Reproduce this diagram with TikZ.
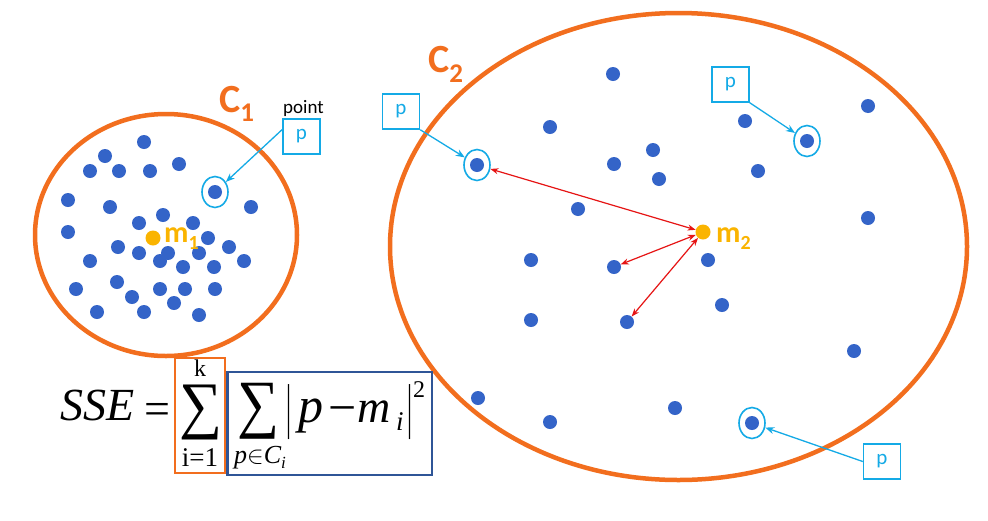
\documentclass[tikz,border=0pt]{standalone}
\usepackage{fontspec}
\usepackage{graphicx}
\usetikzlibrary{arrows.meta,shapes.geometric}
\newfontfamily\carlito{Carlito}
\newfontfamily\tmsfont{Liberation Serif}
\definecolor{corange}{RGB}{242,110,30}
\definecolor{cgold}{RGB}{250,180,0}
\definecolor{cdot}{RGB}{52,100,200}
\definecolor{ccyan}{RGB}{20,170,230}
\definecolor{cred}{RGB}{230,20,20}
\definecolor{cnavy}{RGB}{47,85,151}
\tikzset{
  bdot/.style={circle,fill=cdot,inner sep=0pt,minimum size=14pt},
  centroid/.style={circle,fill=cgold,inner sep=0pt,minimum size=15pt},
  pring/.style={ellipse,draw=ccyan,line width=1.6pt,inner sep=0pt,minimum width=26pt,minimum height=31pt},
  pbox/.style={draw=ccyan,line width=1.5pt,minimum width=37pt,minimum height=35pt,inner sep=0pt,text=ccyan,font=\carlito\fontsize{21}{21}\selectfont},
  parrow/.style={draw=ccyan,line width=1.3pt,-{Stealth[length=9pt,width=7pt]}},
  darrow/.style={draw=cred,line width=1.2pt,{Stealth[length=8pt,width=6pt]}-{Stealth[length=8pt,width=6pt]}},
  cluster/.style={draw=corange,line width=4.5pt},
  clabel/.style={text=corange,font=\carlito\bfseries\fontsize{40}{40}\selectfont,inner sep=0pt,anchor=base west},
  mlabel/.style={text=cgold,font=\carlito\bfseries\fontsize{30}{30}\selectfont,inner sep=0pt,anchor=base west},
  ftext/.style={inner sep=0pt,anchor=base west},
  obox/.style={draw=corange,line width=2.5pt},
  nbox/.style={draw=cnavy,line width=2.5pt}
}
\begin{document}
\begin{tikzpicture}[x=1pt,y=-1pt]
\fill[white] (0,0) rectangle (988,520);
\path[use as bounding box] (0,0) rectangle (988,520);

% clusters
\draw[cluster] (166,235) ellipse [x radius=131, y radius=121];
\draw[cluster] (678.5,246.5) ellipse [x radius=288.5, y radius=233.5];

% cluster 1 points
\foreach \px/\py [count=\i] in {144/142,105/156,90/171,119/171,150/171,179/164,68/200,110/207,251/207,163/215,139/223,193/223,68/232,208/238,118/247,139/253,168/253,199/253,229/247,90/261,160/261,183/267,214/267,244/261,76/289,117/282,160/289,185/289,215/289,132/297,174/303,97/312,144/312,199/315}
  \node[bdot] (a\i) at (\px,\py) {};
\node[bdot] (a0) at (215,192) {};
\node[pring] (r1) at (215,192) {};
\node[centroid] (m1) at (153,238) {};

% cluster 2 points
\foreach \px/\py [count=\i] in {613/74,550/127,653/150,614/164,659/179,578/209,745/121,868/106,758/171,868/218,531/260,708/260,722/305,531/320,854/351,478/398,550/422,675/408}
  \node[bdot] (b\i) at (\px,\py) {};
\node[bdot] (q1) at (614,267) {};
\node[bdot] (q2) at (627,322) {};
\node[bdot] (s2) at (477,165) {};
\node[bdot] (s3) at (807,141) {};
\node[bdot] (s4) at (752,423) {};
\node[pring] (r2) at (477,165) {};
\node[pring] (r3) at (807,141) {};
\node[pring] (r4) at (752,423) {};
\node[centroid] (m2) at (703,232) {};

% p boxes
\node[pbox] (pb1) at (301.5,136.5) {p};
\node[pbox] (pb2) at (401,111.5) {p};
\node[pbox] (pb3) at (730.5,84.5) {p};
\node[pbox] (pb4) at (882,461.5) {p};
\draw[parrow] (pb1.160) -- (r1);
\draw[parrow] (pb2.south east) -- (r2);
\draw[parrow] (pb3.south east) -- (r3);
\draw[parrow] (pb4.west) -- (r4);

% distance arrows
\draw[darrow] (r2) -- (m2);
\draw[darrow] (m2) -- (q1);
\draw[darrow] (m2) -- (q2);

% labels
\node[clabel] (c1lab) at (219,112) {C\raisebox{-9pt}{\fontsize{27}{27}\selectfont 1}};
\node[clabel] (c2lab) at (428,72) {C\raisebox{-10pt}{\fontsize{27}{27}\selectfont 2}};
\node[mlabel] (m1lab) at (164,242) {m\raisebox{-7pt}{\fontsize{20}{20}\selectfont 1}};
\node[mlabel] (m2lab) at (716,242) {m\raisebox{-7pt}{\fontsize{20}{20}\selectfont 2}};
\node[ftext,font=\carlito\fontsize{19}{19}\selectfont] (ptlab) at (283,113) {point};

% formula
\draw[obox] (175,358) rectangle (225,473);
\draw[nbox] (227.5,372) rectangle (432,475);
\node[ftext,font=\tmsfont\itshape\fontsize{46}{46}\selectfont] (sse) at (60,420) {SSE};
\node[ftext,font=\tmsfont\fontsize{46}{46}\selectfont] (eq) at (144,424) {=};
\node[inner sep=0pt] (sum1) at (200.5,412) {\resizebox*{43pt}{55pt}{\tmsfont ∑}};
\node[ftext,font=\tmsfont\fontsize{24}{24}\selectfont,anchor=base] (kk) at (200,376) {k};
\node[ftext,font=\tmsfont\fontsize{27}{27}\selectfont,anchor=base] (ione) at (200,466) {i=1};
\node[inner sep=0pt] (sum2) at (258.5,411.5) {\resizebox*{42pt}{56pt}{\tmsfont ∑}};
\node[ftext,font=\tmsfont\fontsize{26}{26}\selectfont,anchor=base] (pin) at (260,463) {\itshape p$\in$C\raisebox{-5pt}{\fontsize{17}{17}\selectfont i}};
\node[inner sep=0pt] (bar1) at (289,412.5) {\resizebox*{5pt}{55pt}{\tmsfont |}};
\node[ftext,font=\tmsfont\itshape\fontsize{50}{50}\selectfont] (pp) at (298,422) {p};
\node[ftext,font=\tmsfont\fontsize{50}{50}\selectfont] (minus) at (328,424) {−};
\node[ftext,font=\tmsfont\itshape\fontsize{46}{46}\selectfont] (mm) at (357,422) {m};
\node[ftext,font=\tmsfont\itshape\fontsize{27}{27}\selectfont] (ii) at (396,430) {i};
\node[inner sep=0pt] (bar2) at (410,412.5) {\resizebox*{5pt}{55pt}{\tmsfont |}};
\node[ftext,font=\tmsfont\fontsize{24}{24}\selectfont] (sq) at (413,397) {2};
\end{tikzpicture}
\end{document}
